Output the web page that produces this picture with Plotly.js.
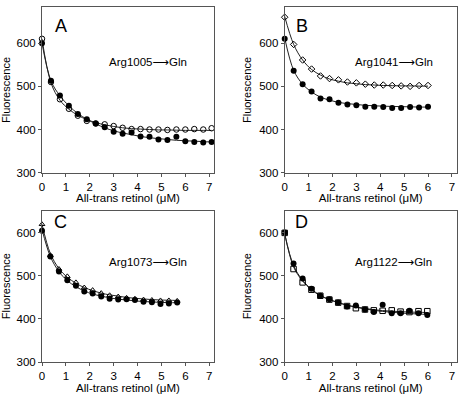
<!DOCTYPE html>
<html><head><meta charset="utf-8">
<script src="https://cdn.plot.ly/plotly-3.0.1.min.js"></script>
<style>body{margin:0;background:#fff}#chart{width:465px;height:398px}</style>
</head><body><div id="chart"></div>
<script>
// Panel A: Arg1005->Gln
const xA = [0,0.375,0.75,1.125,1.5,1.875,2.25,2.625,3,3.375,3.75,4.125,4.5,4.875,5.25,5.625,6,6.375,6.75,7.1];
const aFilled = [600,513,479,455,436,424,414,405,395,390,393,384,383,377,376,383,373,371,370,371];
const aOpen = [610,510,470,448,432,420,414,412,408,404,401,401,400,400,399,400,400,401,400,403];
const aFitFilled = [600,513,478,455,437,424,413,404,397,392,388,384,381,379,377,375,374,373,372,371];
const aFitOpen = [610,508,468,447,433,423,416,411,407,404,402,401,400,399,399,398.5,398,398,398,398];
// Panel B: Arg1041->Gln
const xB = [0,0.375,0.75,1.125,1.5,1.875,2.25,2.625,3,3.375,3.75,4.125,4.5,4.875,5.25,5.625,6];
const bFilled = [610,536,505,488,472,470,462,458,456,453,453,452,450,450,452,451,453];
const bOpen = [660,597,561,540,524,518,515,510,508,505,503,503,502,501,500,502,502];
const bFitFilled = [612,537,505,487,475,468,463,460,458,456,455,454,453.5,453,452.5,452,452];
const bFitOpen = [662,597,561,539,526,517,512,508,506,504,503,502,501.5,501,501,500.5,500.5];
// Panel C: Arg1073->Gln
const xC = [0,0.35,0.71,1.06,1.42,1.77,2.12,2.48,2.83,3.19,3.54,3.89,4.25,4.6,4.96,5.31,5.66];
const cFilled = [605,545,510,490,477,464,459,452,447,445,446,444,440,439,435,436,438];
const cOpen = [620,548,516,499,485,473,467,460,455,452,449,447,445,444,443,443,442];
const cFitFilled = [608,545,510,489,475,465,458,453,449,446,444,442,440.5,439.5,438.5,438,437.5];
const cFitOpen = [620,552,517,497,483,473,466,460,456,453,450,448,446.5,445,444,443.5,443];
// Panel D: Arg1122->Gln
const xD = [0,0.37,0.75,1.12,1.49,1.87,2.24,2.61,2.98,3.36,3.73,4.1,4.48,4.85,5.22,5.6,5.97];
const dFilled = [601,529,494,470,454,446,438,429,431,422,416,433,413,413,419,413,409];
const dOpen = [600,516,485,468,454,445,438,430,425,422,420,419,420,417,416,418,418];
const dFitFilled = [598,524,490,469,455,445,438,432,427,423.5,420,417.5,415.5,414,412.5,411.5,410.5];
const dFitOpen = [598,521,488,468,454,445,438,432,428,424.5,421.5,419.5,418,417,416,415.5,415];

const panelLetters = ['A','B','C','D'];
const ARROW = '<span style="font-family:DejaVu Sans">\u27f6</span>';
const mutationLabels = ['Arg1005'+ARROW+'Gln','Arg1041'+ARROW+'Gln','Arg1073'+ARROW+'Gln','Arg1122'+ARROW+'Gln'];
const xTicks = [0,1,2,3,4,5,6,7];
const yTicks = [300,400,500,600];

const FONT = 'Liberation Sans, Arial, Helvetica, sans-serif';
const panels = [
  {x:xA, f:aFilled, o:aOpen, ff:aFitFilled, fo:aFitOpen, sym:'circle-open', osz:5.5},
  {x:xB, f:bFilled, o:bOpen, ff:bFitFilled, fo:bFitOpen, sym:'diamond-open', osz:5},
  {x:xC, f:cFilled, o:cOpen, ff:cFitFilled, fo:cFitOpen, sym:'triangle-up-open', osz:5},
  {x:xD, f:dFilled, o:dOpen, ff:dFitFilled, fo:dFitOpen, sym:'square-open', osz:5.5}
];
const traces = [];
panels.forEach((p,i)=>{
  const xa = i===0?'x':'x'+(i+1), ya = i===0?'y':'y'+(i+1);
  const common = {xaxis:xa, yaxis:ya, showlegend:false, cliponaxis:false, hoverinfo:'skip'};
  traces.push(Object.assign({type:'scatter', mode:'lines', x:p.x, y:p.ff, line:{color:'#222', width:1, shape:'spline', smoothing:1}}, common));
  traces.push(Object.assign({type:'scatter', mode:'lines', x:p.x, y:p.fo, line:{color:'#222', width:1, shape:'spline', smoothing:1}}, common));
  traces.push(Object.assign({type:'scatter', mode:'markers', x:p.x, y:p.o, marker:{symbol:p.sym, size:p.osz, color:'#000', line:{width:1, color:'#000'}}}, common));
  traces.push(Object.assign({type:'scatter', mode:'markers', x:p.x, y:p.f, marker:{symbol:'circle', size:6, color:'#000'}}, common));
});

const W=465, H=398;
const boxes = [
  {l:42, r:214, t:7.3, b:172.7, yr:[300,683]},
  {l:284.7, r:456.7, t:7.3, b:172.7, yr:[300,683]},
  {l:42, r:214, t:210.5, b:362, yr:[300,652]},
  {l:284.7, r:456.7, t:210.5, b:362, yr:[300,652]}
];
const layout = {
  width:W, height:H, margin:{l:0,r:0,t:0,b:0}, paper_bgcolor:'#fff', plot_bgcolor:'#fff',
  font:{family:FONT, size:11, color:'#000'}, annotations:[]
};
boxes.forEach((bx,i)=>{
  const xk = i===0?'xaxis':'xaxis'+(i+1), yk = i===0?'yaxis':'yaxis'+(i+1);
  const xa = i===0?'x':'x'+(i+1), ya = i===0?'y':'y'+(i+1);
  layout[xk] = {domain:[bx.l/W, bx.r/W], range:[0,7.2], anchor:ya, tickvals:xTicks, ticktext:xTicks.map(String),
    ticks:'outside', ticklen:3, tickcolor:'#555', showline:true, mirror:true, linecolor:'#555', linewidth:1,
    showgrid:false, zeroline:false, tickfont:{size:11.5, family:FONT}, automargin:false,
    title:{text:'All-trans retinol (\u03bcM)', font:{size:11.5, family:FONT}, standoff:1}};
  layout[yk] = {domain:[1-bx.b/H, 1-bx.t/H], range:bx.yr, anchor:xa, tickvals:yTicks, ticktext:yTicks.map(String),
    ticks:'outside', ticklen:3, tickcolor:'#555', showline:true, mirror:true, linecolor:'#555', linewidth:1,
    showgrid:false, zeroline:false, tickfont:{size:11.5, family:FONT}, automargin:false,
    title:{text:'Fluorescence', font:{size:11, family:FONT}, standoff:5}};
  const top = i<2;
  layout.annotations.push({xref:xa+' domain', yref:ya+' domain', x:(i%2===0?0.11:0.098), y:(top?0.889:0.921),
    xanchor:'center', yanchor:'middle', text:panelLetters[i], showarrow:false, font:{size:18, family:FONT}});
  layout.annotations.push({xref:xa+' domain', yref:ya+' domain', x:(i%2===0?0.378:0.395), y:(top?0.671:0.662),
    xanchor:'left', yanchor:'middle', text:mutationLabels[i], showarrow:false, font:{size:11.5, family:FONT}});
});
Plotly.newPlot('chart', traces, layout, {staticPlot:true});
</script></body></html>
